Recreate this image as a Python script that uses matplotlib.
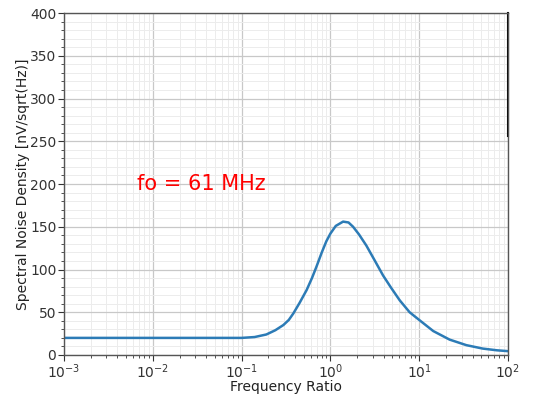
import numpy as np
import matplotlib
matplotlib.use("Agg")
import matplotlib.pyplot as plt
from matplotlib.ticker import MultipleLocator, LogLocator

freq_ratio = [0.001, 0.003, 0.01, 0.03, 0.06, 0.1, 0.14, 0.19, 0.24, 0.295, 0.34, 0.383,
              0.45, 0.54, 0.62, 0.695, 0.8, 0.9, 1.0, 1.15, 1.39, 1.6, 1.8, 2.1, 2.54,
              3.1, 3.92, 4.8, 6.03, 7.8, 10.0, 14.4, 22.0, 34.0, 52.0, 75.0, 100.0]
noise_density = [20, 20, 20, 20, 20, 20, 21, 24, 29, 35, 41, 48.7,
                 61, 76, 90, 103, 120, 133, 142, 151, 156, 155, 150, 141, 128,
                 112, 93, 79, 64, 50, 41, 28, 18, 11.5, 7.5, 5.5, 4.5]

annotation = "fo = 61 MHz"

fig = plt.figure(figsize=(5.43, 3.98), dpi=100)
ax = fig.add_axes([64/543, 1 - 355/398, (508-64)/543, (355-13)/398])

ax.plot(freq_ratio, noise_density, color="#2c7bb6", linewidth=1.8)
ax.set_xscale("log")
ax.set_xlim(1e-3, 1e2)
ax.set_ylim(0, 400)
ax.yaxis.set_major_locator(MultipleLocator(50))
ax.yaxis.set_minor_locator(MultipleLocator(10))
ax.xaxis.set_major_locator(LogLocator(base=10, numticks=10))
ax.xaxis.set_minor_locator(LogLocator(base=10, subs=np.arange(2, 10), numticks=20))

ax.grid(which="major", color="#c8c8c8", linewidth=0.9)
ax.grid(which="minor", color="#ececec", linewidth=0.7)
ax.set_axisbelow(True)

for s in ax.spines.values():
    s.set_color("#555555")
    s.set_linewidth(1.0)
ax.tick_params(which="both", colors="#333333", labelsize=10)
ax.tick_params(which="major", length=4, pad=1.5)
ax.tick_params(which="minor", length=2)

ax.set_xlabel("Frequency Ratio", fontsize=10, color="#222222", labelpad=-1)
ax.set_ylabel("Spectral Noise Density [nV/sqrt(Hz)]", fontsize=10, color="#222222", labelpad=0)

ax.text(0.0066, 200, annotation, color="red", fontsize=15, va="center", ha="left")

ax.axvline(1e2, ymin=0.64, ymax=1.0, color="black", linewidth=1.5, clip_on=False)

fig.savefig("out.png", dpi=100)
